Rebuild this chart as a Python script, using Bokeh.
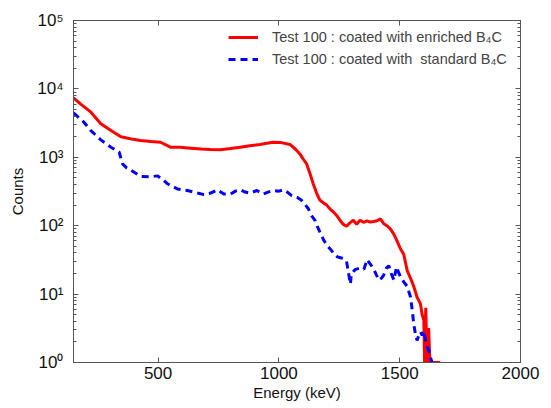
from bokeh.plotting import figure
from bokeh.models import (LogAxis, LinearAxis, FixedTicker, LogTicker, Range1d,
                          CustomJSTickFormatter, Legend, LegendItem)
from bokeh.embed import file_html
from bokeh.resources import INLINE

# ---- data ----
red_x = [150, 180, 222, 263, 305, 346, 390, 427, 470, 510, 551, 590, 634, 680, 716,
         757, 800, 840, 880, 922, 950, 976, 1010, 1046, 1070, 1087, 1100, 1115, 1130,
         1142, 1156, 1170, 1185, 1198, 1212, 1225, 1240, 1253, 1266, 1280, 1294, 1308,
         1322, 1336, 1350, 1365, 1378, 1392, 1406, 1420, 1433, 1447, 1461, 1475, 1489,
         1503, 1517, 1531, 1545, 1558, 1572, 1586, 1593, 1600, 1603, 1608, 1613, 1620,
         1625, 1668]
red_y = [7400, 6000, 4570, 3100, 2460, 2000, 1850, 1760, 1700, 1660, 1405, 1400, 1360,
         1320, 1300, 1290, 1340, 1405, 1470, 1540, 1600, 1665, 1640, 1540, 1300, 1120,
         950, 800, 560, 410, 300, 235, 215, 200, 175, 160, 140, 120, 105, 98, 110, 120,
         105, 120, 112, 118, 113, 115, 118, 126, 108, 100, 90, 76, 60, 46, 38, 22, 17,
         13, 9, 7.2, 5, 4.1, 1, 6.3, 1, 3.2, 1, 1]

blue_x = [150, 172, 193, 222, 263, 305, 339, 353, 370, 388, 429, 470, 498, 520, 539,
          580, 622, 663, 690, 718, 745, 772, 800, 820, 840, 860, 881, 909, 936, 955,
          977, 1000, 1019, 1035, 1053, 1075, 1094, 1110, 1122, 1135, 1150, 1160, 1172,
          1185, 1200, 1214, 1228, 1242, 1255, 1268, 1280, 1296, 1300, 1317, 1335, 1352,
          1365, 1380, 1393, 1404, 1414, 1424, 1434, 1445, 1455, 1465, 1476, 1487, 1495,
          1503, 1517, 1531, 1545, 1552, 1558, 1565, 1572, 1579, 1586, 1593, 1600, 1607,
          1614, 1620, 1627, 1634]
blue_y = [4470, 3800, 3260, 2450, 1800, 1405, 1190, 800, 700, 645, 525, 520, 535, 470,
          410, 345, 327, 300, 285, 300, 335, 290, 290, 320, 335, 310, 300, 327, 290,
          310, 327, 320, 335, 310, 275, 260, 235, 200, 177, 140, 119, 96, 78, 62, 51,
          45, 39, 35, 34, 33, 30, 14, 20, 23, 24, 23, 32, 27, 23, 19, 16, 17, 19, 24,
          26, 20, 16, 25, 21, 18, 15, 13, 9, 5.8, 3.7, 2.6, 2.1, 2.5, 2.8, 2.5, 2.9,
          2.1, 1.7, 1.5, 1.2, 1]

x_ticks = [500, 1000, 1500, 2000]
y_ticks = [1, 10, 100, 1000, 10000, 100000]
y_tick_labels = ["10⁰", "10¹", "10²", "10³", "10⁴", "10⁵"]
label_red = "Test 100 : coated with enriched B₄C"
label_blue = "Test 100 : coated with  standard B₄C"

FONT = "Liberation Sans"
AX = "#555555"

p = figure(width=550, height=406, y_axis_type="log",
           x_range=Range1d(150, 2000), y_range=Range1d(1, 1e5),
           output_backend="svg", toolbar_location=None,
           min_border_left=73, min_border_right=30, min_border_top=20,
           min_border_bottom=44, x_axis_label="Energy (keV)", y_axis_label="Counts")
p.grid.visible = False
p.outline_line_color = AX

r1 = p.line(red_x, red_y, line_color="#ff0000", line_width=3)
r2 = p.line(blue_x, blue_y, line_color="#0000ff", line_width=3, line_dash="7 5")

xa = p.xaxis[0]
xa.ticker = FixedTicker(ticks=x_ticks)
ya = p.yaxis[0]
ya.ticker = LogTicker(num_minor_ticks=10)
ya.major_label_overrides = {t: l for t, l in zip(y_ticks, y_tick_labels)}

for ax in (xa, ya):
    ax.major_tick_in = 5
    ax.major_tick_out = 0
    ax.minor_tick_in = 3
    ax.minor_tick_out = 0
    ax.axis_line_color = AX
    ax.major_tick_line_color = AX
    ax.minor_tick_line_color = AX
    ax.major_label_text_font = FONT
    ax.major_label_text_font_size = "17px"
    ax.major_label_text_color = "#111111"
    ax.axis_label_text_font = FONT
    ax.axis_label_text_font_size = "15px"
    ax.axis_label_text_font_style = "normal"
    ax.axis_label_text_color = "#111111"
xa.major_label_standoff = 4
xa.axis_label_standoff = 2
ya.major_label_standoff = 10
ya.axis_label_standoff = 8
xa.minor_tick_in = 0

blank = CustomJSTickFormatter(code="return ''")
top = LinearAxis(ticker=FixedTicker(ticks=x_ticks), formatter=blank,
                 major_tick_in=5, major_tick_out=0, minor_tick_in=0, minor_tick_out=0,
                 axis_line_color=AX, major_tick_line_color=AX, major_label_standoff=0)
right = LogAxis(ticker=LogTicker(num_minor_ticks=10), formatter=blank,
                major_tick_in=5, major_tick_out=0, minor_tick_in=3, minor_tick_out=0,
                axis_line_color=AX, major_tick_line_color=AX, minor_tick_line_color=AX,
                major_label_standoff=0)
p.add_layout(top, "above")
p.add_layout(right, "right")

legend = Legend(items=[LegendItem(label=label_red, renderers=[r1]),
                       LegendItem(label=label_blue, renderers=[r2])],
                location=(152, 290), border_line_alpha=0, background_fill_alpha=0,
                label_text_font=FONT, label_text_font_size="14.5px",
                glyph_width=30, glyph_height=20, label_height=20, spacing=2,
                label_standoff=14, padding=3, margin=0)
p.add_layout(legend)

open("out.html", "w").write(file_html(p, INLINE))
